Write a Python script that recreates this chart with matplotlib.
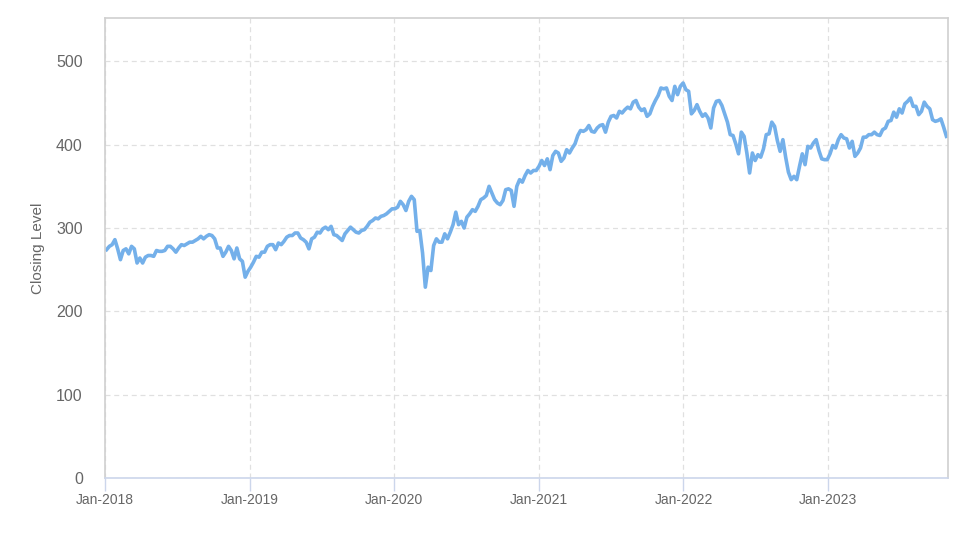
import numpy as np
import pandas as pd
import matplotlib
matplotlib.use("Agg")
import matplotlib.pyplot as plt
import matplotlib.dates as mdates

# weekly closing levels (Fridays)
close_2018 = [274, 278, 280, 286, 275, 262, 273, 275, 269, 278, 275, 258, 264,
              258, 265, 267, 267, 266, 273, 272, 272, 273, 278, 278, 275, 271,
              276, 280, 279, 281, 283, 283, 285, 287, 290, 287, 290, 292, 291,
              287, 276, 276, 266, 271, 278, 273, 263, 276, 263, 260, 241, 248]
close_2019 = [253, 259, 266, 265, 271, 271, 278, 280, 280, 274, 282, 280, 284,
              289, 291, 291, 294, 294, 288, 286, 283, 275, 287, 289, 295, 294,
              299, 301, 298, 302, 292, 291, 288, 285, 293, 297, 301, 298, 295,
              294, 297, 298, 302, 307, 309, 312, 311, 314, 315, 317, 320, 323]
close_2020 = [323, 325, 332, 328, 321, 332, 338, 334, 296, 297, 270, 229, 253,
              249, 279, 287, 283, 283, 293, 287, 295, 304, 319, 304, 308, 300,
              313, 317, 322, 320, 326, 334, 336, 339, 350, 342, 334, 330, 328,
              333, 346, 347, 345, 326, 350, 358, 355, 363, 369, 366, 369, 369]
close_2021 = [374, 381, 375, 383, 370, 387, 392, 390, 380, 384, 394, 390, 396,
              401, 411, 417, 416, 418, 423, 416, 415, 420, 423, 424, 415, 427,
              434, 435, 432, 440, 438, 442, 445, 443, 451, 453, 445, 441, 443,
              434, 437, 446, 453, 459, 468, 467, 468, 458, 453, 470, 460, 470, 474]
close_2022 = [466, 464, 437, 441, 448, 440, 434, 437, 432, 420, 444, 452, 453,
              447, 437, 427, 412, 411, 401, 389, 415, 410, 390, 366, 390, 381,
              388, 385, 395, 412, 413, 427, 422, 405, 392, 406, 385, 367, 358,
              362, 358, 374, 389, 376, 398, 396, 402, 406, 393, 383, 382, 382]
close_2023 = [389, 399, 396, 406, 412, 408, 407, 396, 404, 386, 390, 396, 409,
              409, 412, 412, 415, 412, 411, 418, 420, 428, 429, 439, 433, 443,
              438, 449, 452, 456, 446, 446, 436, 440, 451, 446, 443, 430, 428,
              429, 431, 421, 410]

closes = close_2018 + close_2019 + close_2020 + close_2021 + close_2022 + close_2023
dates = pd.date_range("2018-01-05", periods=len(closes), freq="W-FRI")

start_date = pd.Timestamp("2018-01-01")
end_date = pd.Timestamp("2023-10-31")
y_ticks = [0, 100, 200, 300, 400, 500]

plt.rcParams["font.family"] = ["Liberation Sans", "DejaVu Sans"]

fig = plt.figure(figsize=(9.74, 5.47), dpi=100)
ax = fig.add_axes([105 / 974, 1 - 478 / 547, 843 / 974, 460 / 547])

ax.plot(dates, closes, color="#74b0ea", linewidth=2.6, solid_joinstyle="round")

ax.set_xlim(start_date, end_date)
ax.set_ylim(0, 552)
ax.set_yticks(y_ticks)

# x ticks every January
ax.xaxis.set_major_locator(mdates.YearLocator(month=1, day=1))
ax.xaxis.set_major_formatter(mdates.DateFormatter("%b-%Y"))

ax.grid(True, linestyle=(0, (4, 3)), color="#e0e0e0", linewidth=0.9)
ax.set_axisbelow(True)

for side in ["left", "top", "right"]:
    ax.spines[side].set_color("#d0d0d0")
    ax.spines[side].set_linewidth(1.2)
ax.spines["bottom"].set_color("#ccd6eb")
ax.spines["bottom"].set_linewidth(1.2)

ax.tick_params(axis="y", length=0, pad=16, labelsize=11.5, labelcolor="#666666")
ax.tick_params(axis="x", length=9, width=1, color="#ccd6eb", pad=2,
               labelsize=10, labelcolor="#666666")

ax.set_ylabel("Closing Level", fontsize=11, color="#666666", labelpad=8)

fig.savefig("out.png", dpi=100)
